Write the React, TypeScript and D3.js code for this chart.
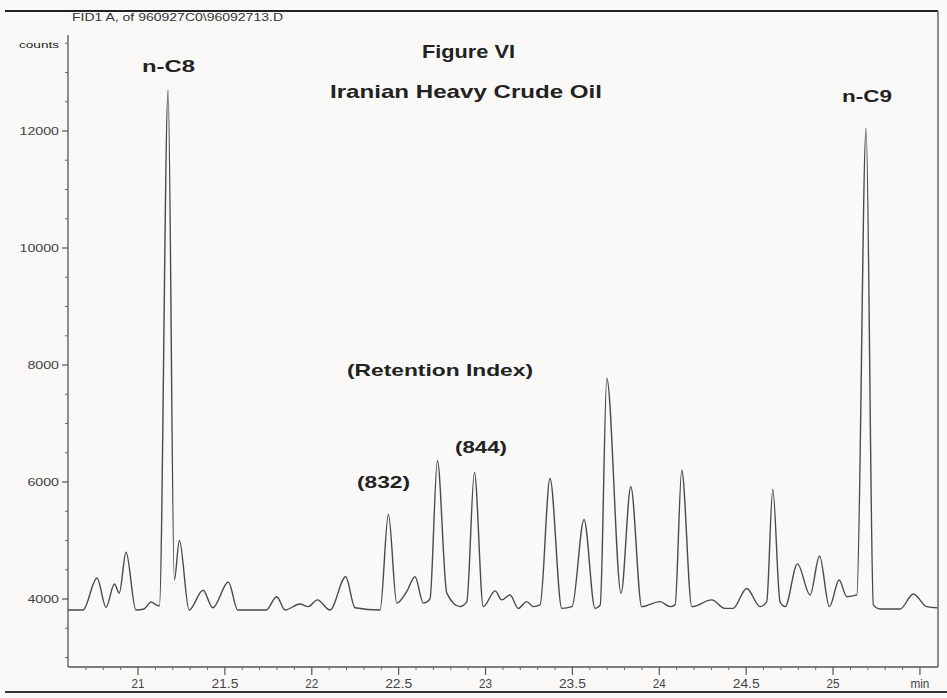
import React from "react";
import * as d3 from "d3";

// Retention time (min) and detector response (counts)
const times = [
  20.597, 20.683, 20.764, 20.816, 20.864, 20.892, 20.931, 20.988, 21.035, 21.075,
  21.104, 21.123, 21.173, 21.209, 21.238, 21.294, 21.374, 21.43, 21.52, 21.574,
  21.737, 21.798, 21.846, 21.932, 21.98, 22.032, 22.105, 22.195, 22.249, 22.393,
  22.441, 22.489, 22.546, 22.594, 22.642, 22.68, 22.723, 22.777, 22.853, 22.892, 22.936, 22.987,
  23.055, 23.093, 23.141, 23.189, 23.237, 23.275, 23.314, 23.371, 23.439, 23.498, 23.567, 23.63,
  23.66, 23.698, 23.78, 23.836, 23.899, 24.004, 24.062, 24.091, 24.129, 24.187, 24.302, 24.378,
  24.424, 24.503, 24.58, 24.618, 24.653, 24.695, 24.724, 24.795, 24.868, 24.922, 24.979, 25.035,
  25.079, 25.137, 25.19, 25.232, 25.271, 25.386, 25.462, 25.539, 25.598,
];
const counts = [
  3812, 3812, 4360, 3860, 4256, 4100, 4800, 3812, 3830, 3950,
  3900, 3880, 12700, 4325, 5000, 3812, 4150, 3850, 4290, 3812,
  3812, 4040, 3812, 3915, 3870, 3985, 3812, 4380, 3850, 3812,
  5450, 3930, 4125, 4380, 3930, 4000, 6364, 4100, 3870, 3950, 6165, 3870,
  4140, 3985, 4070, 3840, 3955, 3870, 3900, 6060, 3840, 3870, 5360, 3840,
  3900, 7770, 4100, 5920, 3870, 3955, 3870, 3900, 6200, 3870, 3985, 3840,
  3840, 4180, 3870, 3950, 5875, 3950, 3870, 4600, 4070, 4735, 3870, 4325,
  4040, 4070, 12050, 3900, 3830, 3830, 4085, 3870, 3850,
];

const xMajorTicks = [21, 21.5, 22, 22.5, 23, 23.5, 24, 24.5, 25, 25.5];
const xMajorLabels = ["21", "21.5", "22", "22.5", "23", "23.5", "24", "24.5", "25", "min"];
const yMajorTicks = [4000, 6000, 8000, 10000, 12000];
const yMajorLabels = ["4000", "6000", "8000", "10000", "12000"];
const xDomain = [20.597, 25.604];
const yDomain = [2838, 13641];

const W = 947;
const H = 698;
const FONT = "'Liberation Sans', Arial, Helvetica, sans-serif";

function T(props: {
  x: number; y: number; w: number; size: number; bold?: boolean; fill?: string;
  anchor?: string; children: React.ReactNode;
}) {
  return (
    <text
      x={props.x}
      y={props.y}
      textLength={props.w}
      lengthAdjust="spacingAndGlyphs"
      fontSize={props.size}
      fontWeight={props.bold ? "bold" : "normal"}
      fontFamily={FONT}
      fill={props.fill ?? "#222"}
      textAnchor={props.anchor ?? "start"}
    >
      {props.children}
    </text>
  );
}

export default function App() {
  const x = d3.scaleLinear().domain(xDomain).range([68, 938]);
  const y = d3.scaleLinear().domain(yDomain).range([667, 35]);

  const data = times.map((t, i) => [t, counts[i]] as [number, number]);
  const line = d3
    .line<[number, number]>()
    .x((d) => x(d[0]))
    .y((d) => y(d[1]))
    .curve(d3.curveMonotoneX);

  const xMinor = d3.range(207, 256).map((v) => v / 10).filter((v) => !xMajorTicks.some((m) => Math.abs(m - v) < 1e-6));
  const yMinor = d3.range(3000, 13501, 500).filter((v) => !yMajorTicks.includes(v));

  return (
    <svg
      width={W}
      height={H}
      style={{ position: "absolute", left: 0, top: 0, background: "#fbf9f8" }}
    >
      <rect x={0} y={0} width={W} height={H} fill="#fbf9f8" />
      {/* frame lines from the scanned page */}
      <line x1={5} x2={938} y1={11} y2={11} stroke="#222" strokeWidth={2} />
      <line x1={938} x2={938} y1={11} y2={667} stroke="#666" strokeWidth={1.5} />
      <line x1={5} x2={947} y1={692} y2={692} stroke="#333" strokeWidth={2} />

      <T x={72} y={21} w={211} size={10} fill="#333">{"FID1 A, of 960927C0\\96092713.D"}</T>

      {/* y axis */}
      <line x1={68} x2={68} y1={35} y2={667} stroke="#555" strokeWidth={1.3} />
      {yMajorTicks.map((v, i) => (
        <g key={"ym" + v}>
          <line x1={62} x2={68} y1={y(v)} y2={y(v)} stroke="#555" strokeWidth={1.2} />
          <T x={59} y={y(v) + 3.5} w={yMajorLabels[i].length * 7.9} size={10} fill="#444" anchor="end">
            {yMajorLabels[i]}
          </T>
        </g>
      ))}
      {yMinor.map((v) => (
        <line key={"yn" + v} x1={65} x2={68} y1={y(v)} y2={y(v)} stroke="#666" strokeWidth={1} />
      ))}
      <T x={19} y={48} w={40} size={9} fill="#222">counts</T>

      {/* x axis */}
      <line x1={68} x2={938} y1={667} y2={667} stroke="#555" strokeWidth={1.3} />
      {xMajorTicks.map((v, i) => (
        <g key={"xm" + v}>
          <line x1={x(v)} x2={x(v)} y1={667} y2={675} stroke="#555" strokeWidth={1.2} />
          <T
            x={x(v)}
            y={688}
            w={xMajorLabels[i] === "min" ? 19 : xMajorLabels[i].length === 2 ? 13 : 27}
            size={12}
            fill="#444"
            anchor="middle"
          >
            {xMajorLabels[i]}
          </T>
        </g>
      ))}
      {xMinor.map((v) => (
        <line key={"xn" + v} x1={x(v)} x2={x(v)} y1={667} y2={670} stroke="#666" strokeWidth={1} />
      ))}

      {/* chromatogram trace */}
      <path d={line(data) ?? ""} fill="none" stroke="#4a4a4a" strokeWidth={1.4} strokeLinejoin="round" />

      {/* annotations */}
      <T x={422} y={58} w={93} size={19} bold>Figure VI</T>
      <T x={330} y={98} w={272} size={19} bold>Iranian Heavy Crude Oil</T>
      <T x={142} y={72} w={53} size={17} bold>n-C8</T>
      <T x={842} y={102} w={50} size={17} bold>n-C9</T>
      <T x={347} y={376} w={186} size={17} bold>(Retention Index)</T>
      <T x={357} y={488} w={53} size={17} bold>(832)</T>
      <T x={455} y={453} w={52} size={17} bold>(844)</T>
    </svg>
  );
}
